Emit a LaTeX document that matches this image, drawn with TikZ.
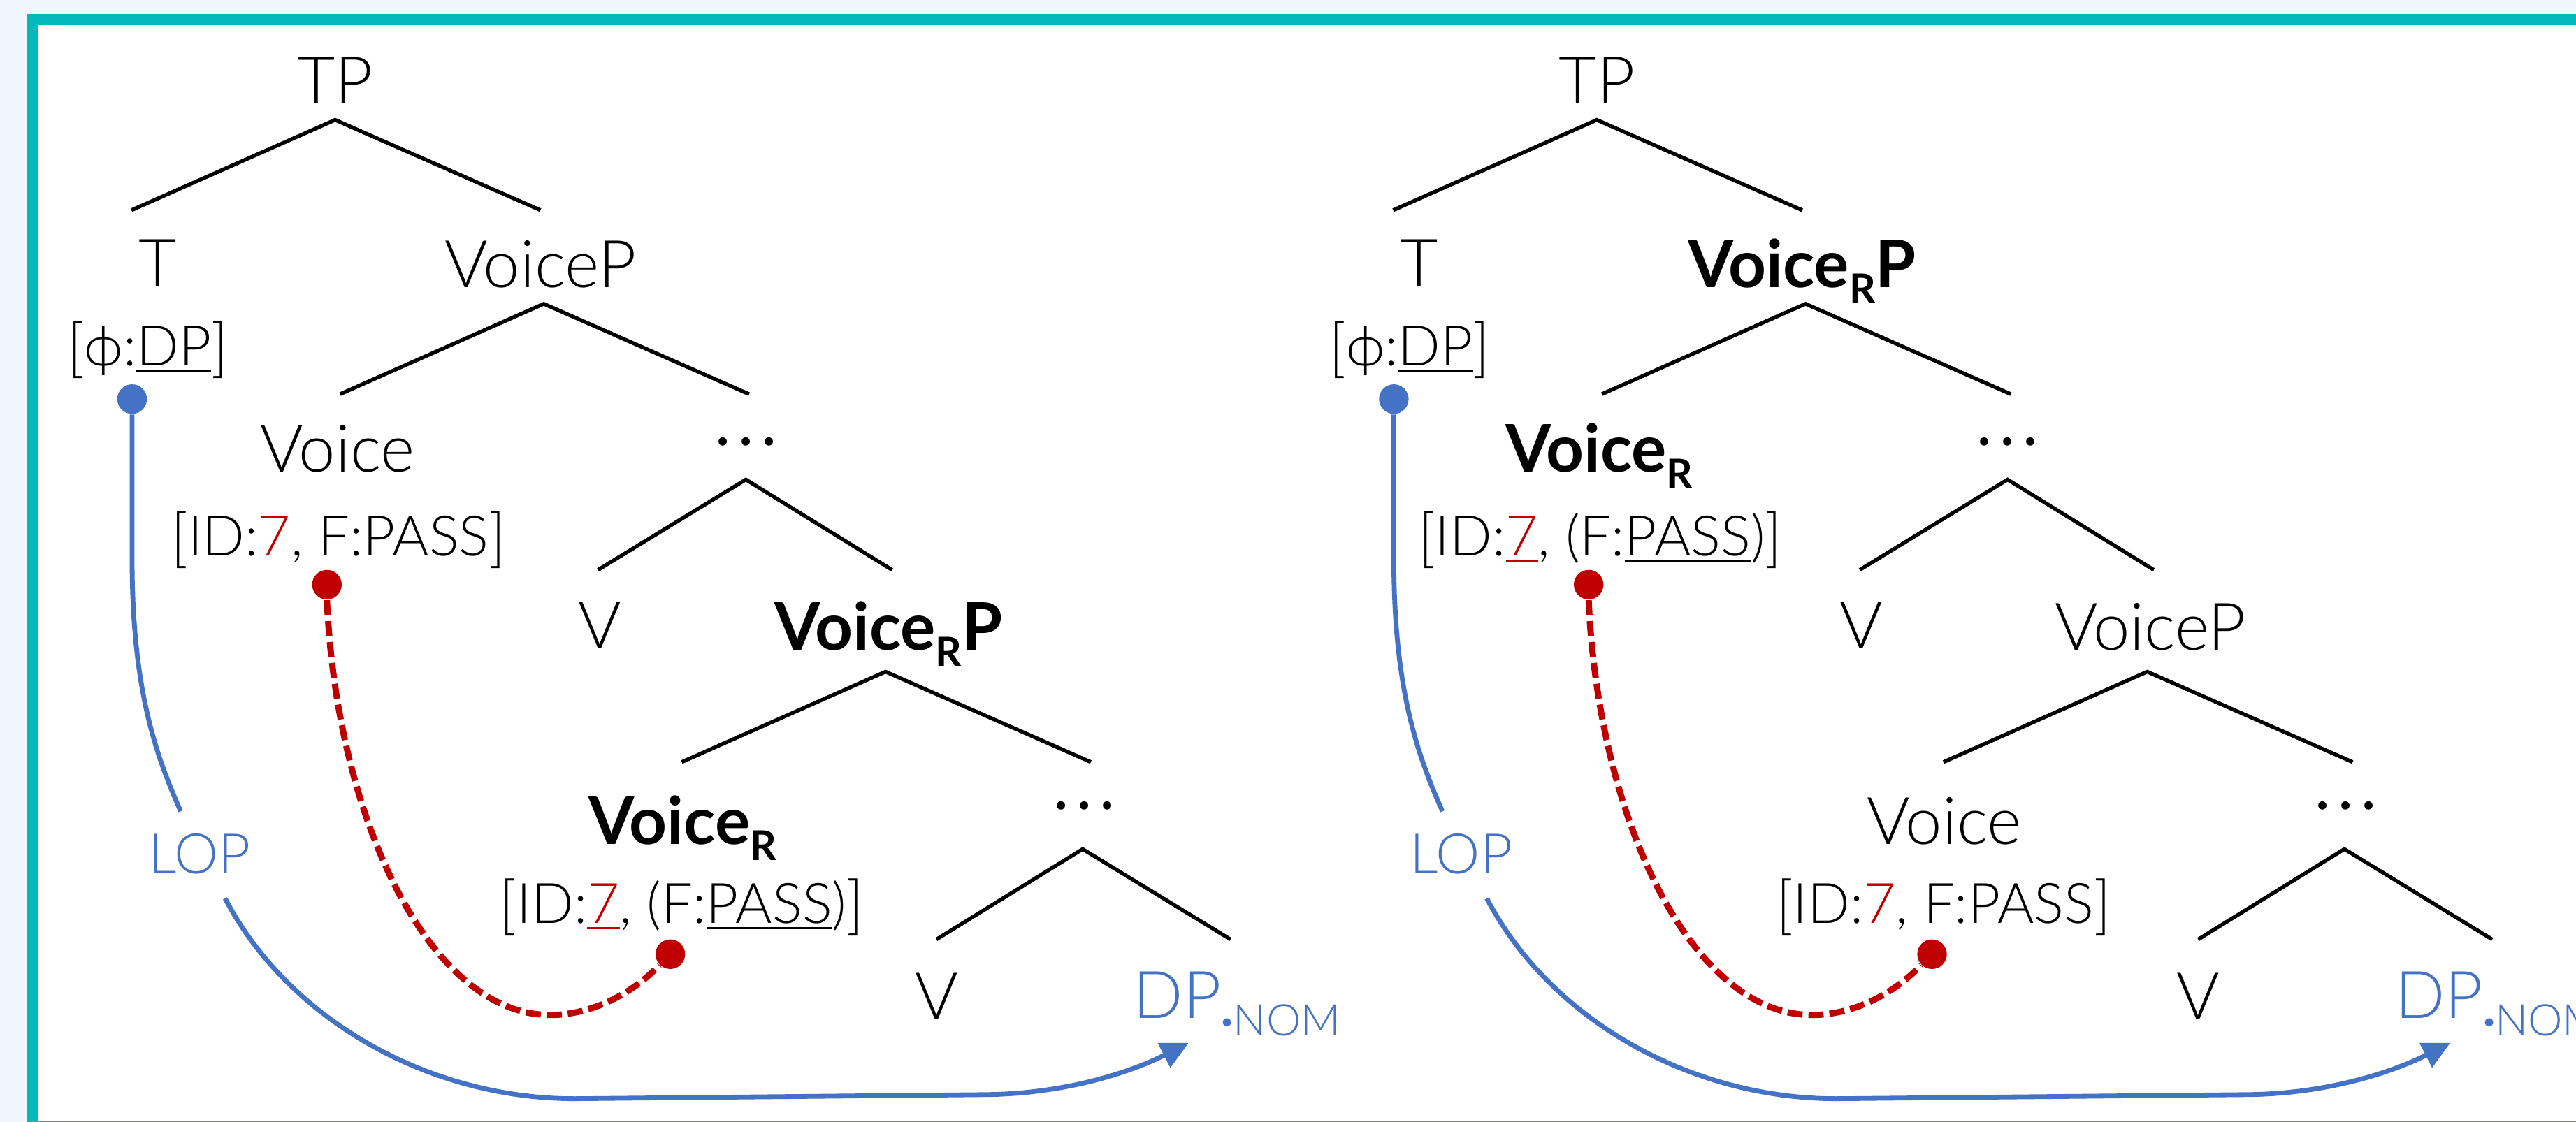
\documentclass[tikz,border=0pt]{standalone}
\usepackage{fontspec}
\setmainfont{Lato Light}[BoldFont={Lato Bold}]
\newfontfamily\latoreg{Lato}
\usetikzlibrary{arrows.meta}
\definecolor{tealc}{RGB}{4,185,188}
\definecolor{bluec}{RGB}{68,114,196}
\definecolor{redc}{RGB}{192,0,0}
\definecolor{bgc}{RGB}{239,246,254}
\newcommand\mainsz{\fontsize{20}{24}\selectfont}
\newcommand\featsz{\fontsize{17}{20}\selectfont}
\newcommand\ulin[1]{\setbox0\hbox{#1}\rlap{\rule[-1.9pt]{\wd0}{0.6pt}}\box0}
\newcommand\subR{\raisebox{-5pt}{\fontsize{12.5}{14}\selectfont R}}
\newcommand\nomsub{\raisebox{-5.25pt}{\fontsize{13.3}{15}\selectfont\textbf{·}NOM}}
\newcommand\lbr{\raisebox{-1.3pt}{\scalebox{1}[1.15]{[}}}
\newcommand\rbr{\raisebox{-1.3pt}{\scalebox{1}[1.15]{]}}}
\newcommand\wdots{{\latoreg.\hspace{2.3pt}.\hspace{2.3pt}.}}
\tikzset{
  lbl/.style={inner sep=0pt, anchor=base, font=\mainsz},
  feat/.style={inner sep=0pt, anchor=base, font=\featsz},
  branch/.style={line width=1.15pt, line join=miter},
  dotr/.style={circle, fill=redc, inner sep=0pt, minimum size=9pt},
  dotb/.style={circle, fill=bluec, inner sep=0pt, minimum size=9pt},
  agree/.style={draw=bluec, line width=1.45pt},
  bind/.style={draw=redc, line width=1.9pt, dash pattern=on 4.6pt off 1.8pt},
}
\newcommand\syntree[7]{%
  \node[lbl] (#1TP) at (204,63) {TP};
  \node[lbl] (#1T) at (96,174) {T};
  \node[feat] (#1Tf) at (90,222.5) {\lbr ϕ:\ulin{DP}\rbr};
  \node[lbl] (#1XP) at (329,175) {#2};
  \node[lbl] (#1X) at (205.5,287.5) {#3};
  \node[feat] (#1Xf) at (206,338.5) {#4};
  \node[lbl] (#1EA) at (454,271) {\wdots};
  \node[lbl] (#1VA) at (365,395) {V};
  \node[lbl] (#1YP) at (541,396) {#5};
  \node[lbl] (#1Y) at (415.5,514) {#6};
  \node[feat] (#1Yf) at (415,562) {#7};
  \node[lbl] (#1EB) at (660,493) {\wdots};
  \node[lbl] (#1VB) at (570,621) {V};
  \node[lbl,text=bluec,anchor=base west] (#1DP) at (689.5,620) {DP\nomsub};
  \node[feat,text=bluec] (#1LOP) at (121.5,532) {LOP};
  \coordinate (#1a1) at (204,73);  \coordinate (#1l1) at (80,128);  \coordinate (#1r1) at (329,128);
  \coordinate (#1a2) at (331,185); \coordinate (#1l2) at (207,240); \coordinate (#1r2) at (456,240);
  \coordinate (#1a3) at (454,292); \coordinate (#1l3) at (364,347); \coordinate (#1r3) at (543,347);
  \coordinate (#1a4) at (539,409); \coordinate (#1l4) at (415,464); \coordinate (#1r4) at (664,464);
  \coordinate (#1a5) at (659,517); \coordinate (#1l5) at (570,572); \coordinate (#1r5) at (749,572);
  \foreach \k in {1,...,5}{\draw[branch] (#1l\k) -- (#1a\k) -- (#1r\k);}
  \node[dotb] (#1bd) at (80.4,243) {};
  \node[dotr] (#1rdA) at (199,356) {};
  \node[dotr] (#1rdB) at (408,581) {};
  \coordinate (#1Lin) at (110,494);
  \coordinate (#1Lout) at (137,547);
  \coordinate (#1tip) at (723.5,635);
  \draw[agree] (#1bd.south) -- (80.4,340) .. controls (80.4,420) and (95,460) .. (#1Lin);
  \draw[agree,-{Triangle[length=8.4pt,width=8.1pt]}] (#1Lout) .. controls (175,620) and (260,669) .. (350,669) -- (600,666.5) .. controls (650,666) and (690,652) .. (#1tip);
  \draw[bind] (#1rdA.south) .. controls (205,500) and (262,618) .. (335,618) .. controls (360,618) and (385,605) .. (#1rdB.225);
}
\begin{document}
\begin{tikzpicture}[x=0.5pt,y=-0.5pt]
\useasboundingbox (0,0) rectangle (1568,683);
\fill[bgc] (0,0) rectangle (1568,683);
\clip (0,0) rectangle (1568,683);
\draw[tealc, line width=3.4pt, fill=white] (20,11.9) rectangle (1600,685.7);
\syntree{L}{VoiceP}{Voice}{\lbr ID:\textcolor{redc}{7}, F:PASS\rbr}{\textbf{Voice\subR P}}{\textbf{Voice\subR}}{\lbr ID:\textcolor{redc}{\ulin{7}}, (F:\ulin{PASS})\rbr}
\begin{scope}[xshift=384pt]
\syntree{R}{\textbf{Voice\subR P}}{\textbf{Voice\subR}}{\lbr ID:\textcolor{redc}{\ulin{7}}, (F:\ulin{PASS})\rbr}{VoiceP}{Voice}{\lbr ID:\textcolor{redc}{7}, F:PASS\rbr}
\end{scope}
\end{tikzpicture}
\end{document}
